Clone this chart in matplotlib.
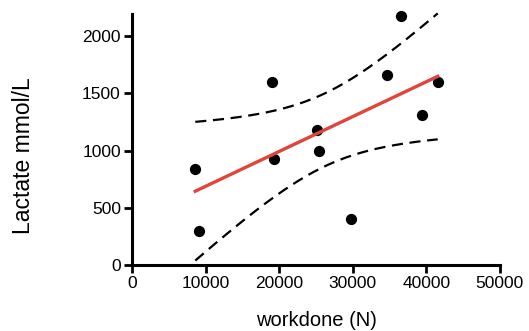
import numpy as np
import matplotlib
matplotlib.use("Agg")
import matplotlib.pyplot as plt

plt.rcParams['font.family'] = ['Liberation Sans', 'DejaVu Sans']

workdone = [8600, 9100, 19050, 19250, 25150, 25350, 29750, 34700, 36500, 39350, 41550]
lactate = [840, 300, 1600, 930, 1180, 1000, 405, 1660, 2175, 1315, 1600]
x_ticks = [0, 10000, 20000, 30000, 40000, 50000]
y_ticks = [0, 500, 1000, 1500, 2000]
t_crit = 2.262  # t(0.975, df=9)

x = np.array(workdone, float)
y = np.array(lactate, float)
n = len(x)
slope, intercept = np.polyfit(x, y, 1)
resid = y - (slope * x + intercept)
s = np.sqrt(np.sum(resid**2) / (n - 2))
xm = x.mean()
sxx = np.sum((x - xm)**2)
xf = np.linspace(x.min(), x.max(), 200)
yf = slope * xf + intercept
se = s * np.sqrt(1.0 / n + (xf - xm)**2 / sxx)
lo = yf - t_crit * se
hi = yf + t_crit * se

fig = plt.figure(figsize=(5.29, 3.31), dpi=100)
ax = fig.add_axes([0.2495, 0.1994, 0.6955, 0.7583])

ax.plot(xf, hi, color='black', lw=1.6, ls=(0, (5, 3)), clip_on=False)
ax.plot(xf, lo, color='black', lw=1.6, ls=(0, (5, 3)))
ax.scatter(x, y, s=50, color='black', zorder=3, clip_on=False)
ax.plot(xf, yf, color='#e0453a', lw=2.4, zorder=4)

ax.set_xlim(0, 50000)
ax.set_ylim(0, 2195)
ax.set_xticks(x_ticks)
ax.set_yticks(y_ticks)
ax.tick_params(width=2, length=6, labelsize=12.5, pad=2)
for sp in ['top', 'right']:
    ax.spines[sp].set_visible(False)
for sp in ['left', 'bottom']:
    ax.spines[sp].set_linewidth(2.2)
ax.set_xlabel('workdone (N)', fontsize=14.5, va='center')
ax.set_ylabel('Lactate mmol/L', fontsize=16.5, va='center')
ax.xaxis.set_label_coords(316 / 529, 1 - 320 / 331, transform=fig.transFigure)
ax.yaxis.set_label_coords(24 / 529, 1 - 156 / 331, transform=fig.transFigure)

fig.savefig('out.png', dpi=100)
